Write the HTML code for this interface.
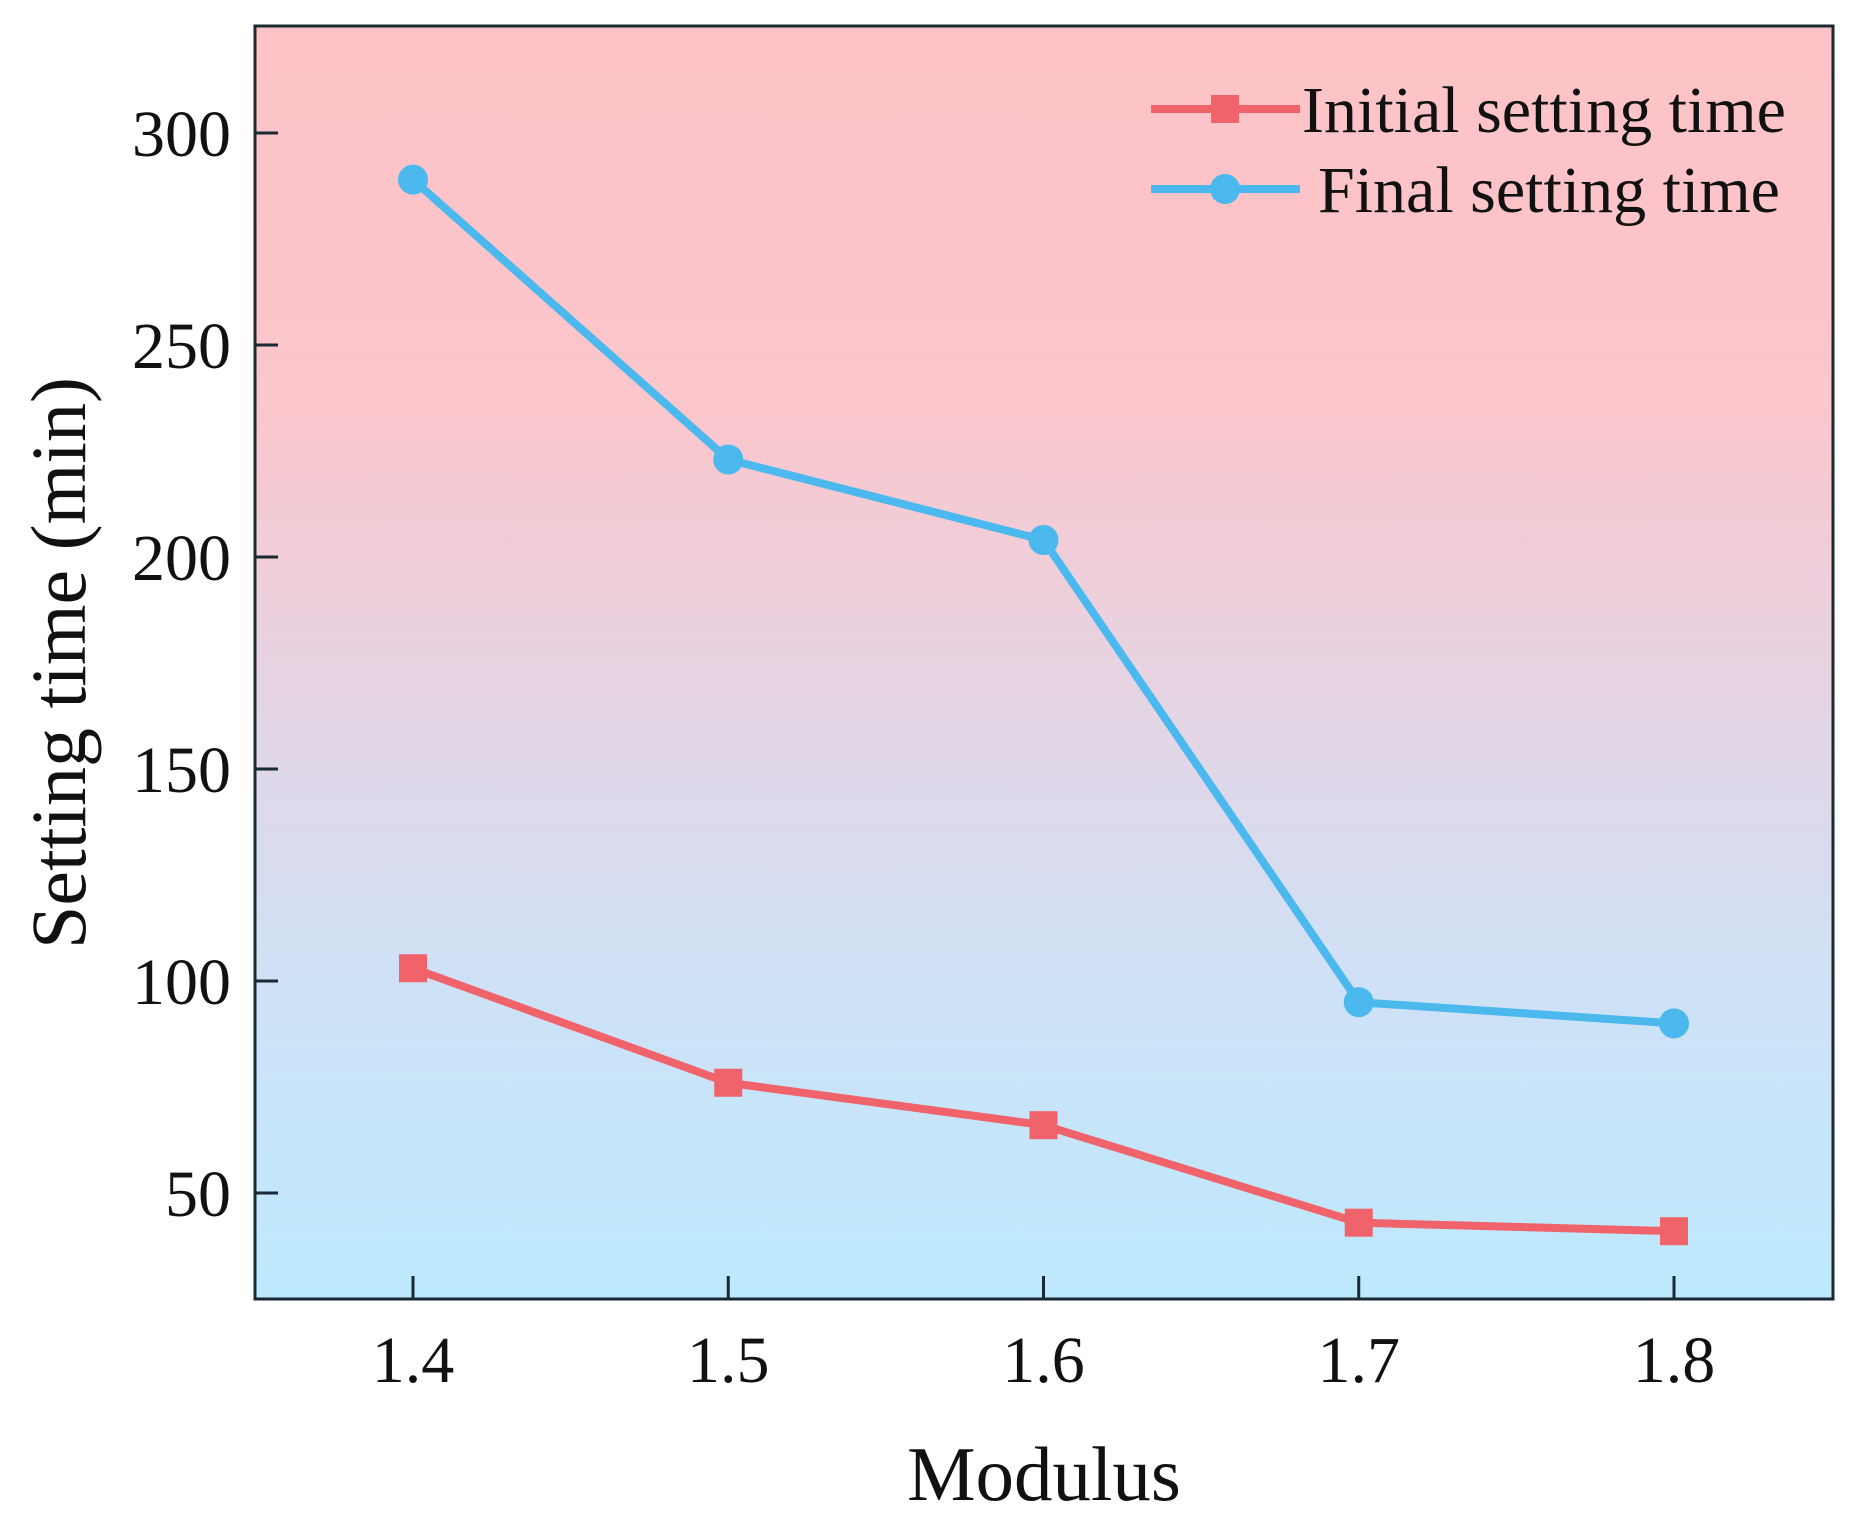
<!DOCTYPE html>
<html><head><meta charset="utf-8"><style>
html,body{margin:0;padding:0;background:#fff;}
svg{display:block;font-family:"Liberation Serif",serif;}
</style></head><body>
<svg id="chart" width="1857" height="1532" viewBox="0 0 1857 1532">
<defs>
<linearGradient id="bg" x1="0" y1="0" x2="0" y2="1">
<stop offset="0" stop-color="#fdc3c6"/>
<stop offset="0.3" stop-color="#fbc6cc"/>
<stop offset="0.55" stop-color="#e3d6e6"/>
<stop offset="0.75" stop-color="#cfe1f6"/>
<stop offset="1" stop-color="#bde9fd"/>
</linearGradient>
</defs>
<rect x="255" y="26" width="1578" height="1273" fill="url(#bg)"/>
<g id="ticks"></g>
<g id="series"></g>
<rect x="255" y="26" width="1578" height="1273" fill="none" stroke="#1a2a33" stroke-width="3"/>
<text x="1044" y="1500" font-size="77" text-anchor="middle" fill="#111">Modulus</text>
<text transform="translate(85,663) rotate(-90)" font-size="78" text-anchor="middle" fill="#111">Setting time (min)</text>
<g>
<line x1="1151" y1="109" x2="1300" y2="109" stroke="#f0636b" stroke-width="8"/>
<rect x="1211" y="95" width="28" height="28" fill="#f0636b"/>
<text x="1302" y="132" font-size="66" fill="#111">Initial setting time</text>
<line x1="1151" y1="189" x2="1300" y2="189" stroke="#4bb8ee" stroke-width="8"/>
<circle cx="1225" cy="189" r="15" fill="#4bb8ee"/>
<text x="1318" y="212" font-size="66" fill="#111">Final setting time</text>
</g>
</svg>
<script>
const categories = [1.4, 1.5, 1.6, 1.7, 1.8];
const xTickLabels = ["1.4", "1.5", "1.6", "1.7", "1.8"];
const yTicks = [50, 100, 150, 200, 250, 300];
const initialTime = [103, 76, 66, 43, 41];
const finalTime = [289, 223, 204, 95, 90];

const NS = "http://www.w3.org/2000/svg";
function xs(v){ return 413 + (v - 1.4) / 0.1 * 315.25; }
function ys(v){ return 1193 - (v - 50) / 50 * 212; }
function mk(tag, attrs, parent){
  const e = document.createElementNS(NS, tag);
  for (const k in attrs) e.setAttribute(k, attrs[k]);
  parent.appendChild(e);
  return e;
}
const tg = document.getElementById('ticks');
categories.forEach((c, i) => {
  const t = mk('line', {x1: xs(c), x2: xs(c), y1: 1299, y2: 1276, stroke: '#1a2a33', 'stroke-width': 3}, tg);
  
  
  const l = mk('text', {x: xs(c), y: 1382, 'font-size': 66, 'text-anchor': 'middle', fill: '#111'}, tg);
  
  
  l.textContent = xTickLabels[i];
});
yTicks.forEach(v => {
  const t = mk('line', {x1: 255, x2: 278, y1: ys(v), y2: ys(v), stroke: '#1a2a33', 'stroke-width': 3}, tg);
  
  
  const l = mk('text', {x: 231, y: ys(v) + 23, 'font-size': 66, 'text-anchor': 'end', fill: '#111'}, tg);
  
  
  l.textContent = String(v);
});
const sg = document.getElementById('series');
function drawSeries(vals, color, name, square){
  const pts = vals.map((v, i) => xs(categories[i]) + ',' + ys(v)).join(' ');
  const pl = mk('polyline', {points: pts, fill: 'none', stroke: color, 'stroke-width': 8, 'stroke-linejoin': 'round'}, sg);
  
  
  vals.forEach((v, i) => {
    let m;
    if (square) m = mk('rect', {x: xs(categories[i]) - 14, y: ys(v) - 14, width: 28, height: 28, fill: color}, sg);
    else m = mk('circle', {cx: xs(categories[i]), cy: ys(v), r: 15, fill: color}, sg);
    
    
  });
}
drawSeries(finalTime, '#4bb8ee', 'final-setting-time', false);
drawSeries(initialTime, '#f0636b', 'initial-setting-time', true);
</script>
</body></html>
